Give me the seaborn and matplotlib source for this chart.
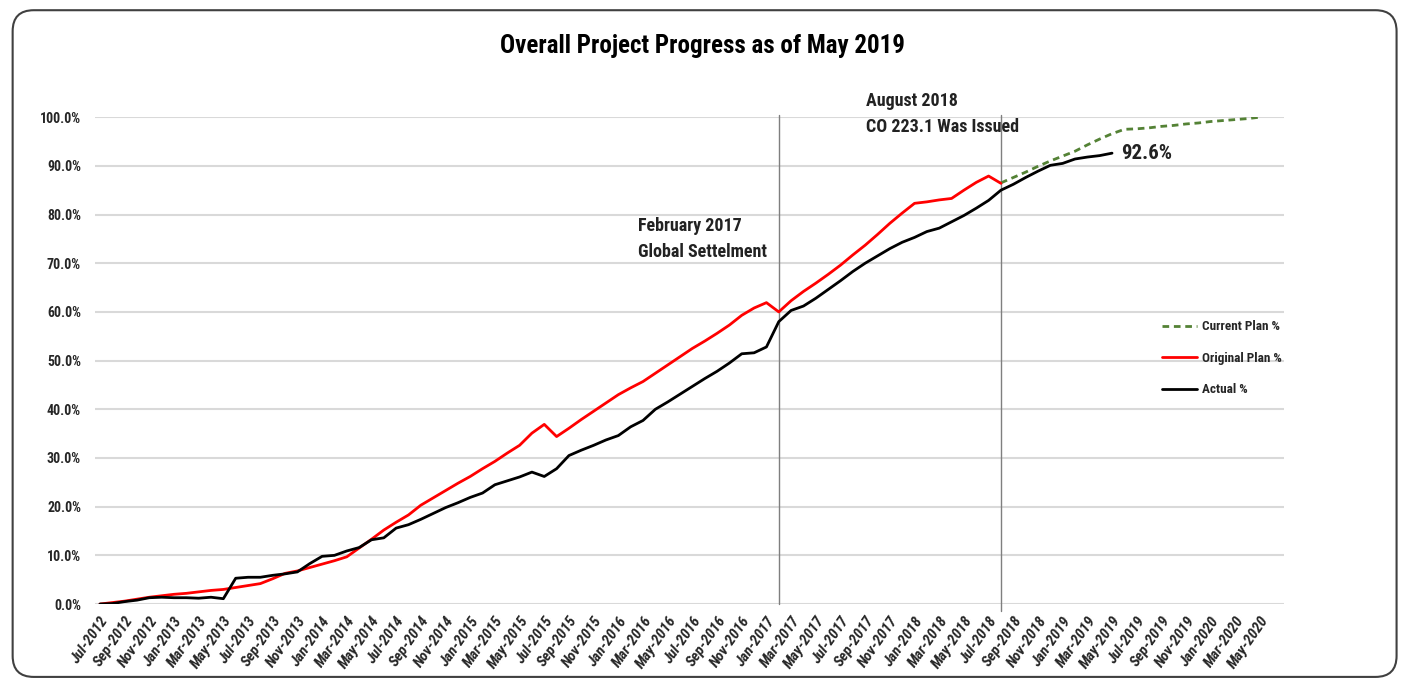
import numpy as np
import pandas as pd
import matplotlib
matplotlib.use("Agg")
import matplotlib.pyplot as plt
from matplotlib import font_manager
from matplotlib.patches import FancyBboxPatch
from matplotlib.ticker import PercentFormatter
import seaborn as sns

# months from Jul-2012 (index 0) to May-2020 (index 94)
months = pd.date_range("2012-07-01", "2020-05-01", freq="MS")
tick_labels = list(pd.date_range("2012-07-01", "2020-05-01", freq="2MS").strftime("%b-%Y"))

# Actual %, Jul-2012 .. May-2019
actual = [0.0, 0.1, 0.5, 0.8, 1.3, 1.4, 1.3, 1.3, 1.2, 1.4,
          1.1, 5.3, 5.5, 5.5, 5.9, 6.2, 6.6, 8.3, 9.8, 10.0,
          10.9, 11.6, 13.2, 13.6, 15.6, 16.3, 17.4, 18.6, 19.8, 20.8,
          21.9, 22.8, 24.5, 25.3, 26.1, 27.1, 26.2, 27.8, 30.5, 31.6,
          32.6, 33.7, 34.6, 36.4, 37.7, 40.0, 41.5, 43.1, 44.7, 46.3,
          47.8, 49.5, 51.4, 51.6, 52.8, 58.0, 60.3, 61.2, 62.8, 64.6,
          66.4, 68.3, 70.0, 71.5, 73.0, 74.3, 75.3, 76.5, 77.2, 78.5,
          79.8, 81.3, 82.9, 85.0, 86.2, 87.6, 88.9, 90.1, 90.5, 91.4,
          91.8, 92.1, 92.6]

# Original Plan %, Jul-2012 .. Aug-2018
original = [0.0, 0.3, 0.6, 1.0, 1.4, 1.7, 2.0, 2.2, 2.5, 2.8,
            3.0, 3.4, 3.8, 4.2, 5.2, 6.3, 6.8, 7.5, 8.2, 8.9,
            9.7, 11.5, 13.3, 15.2, 16.8, 18.3, 20.3, 21.8, 23.3, 24.8,
            26.2, 27.8, 29.3, 31.0, 32.6, 35.1, 36.9, 34.4, 36.1, 37.9,
            39.6, 41.3, 43.0, 44.4, 45.7, 47.4, 49.1, 50.8, 52.5, 54.0,
            55.6, 57.3, 59.3, 60.8, 61.9, 60.0, 62.3, 64.2, 65.9, 67.7,
            69.6, 71.7, 73.7, 75.9, 78.2, 80.3, 82.3, 82.6, 83.0, 83.3,
            85.0, 86.6, 87.9, 86.4]

# Current Plan %, Aug-2018 .. May-2020
current = [86.5, 87.6, 88.7, 89.9, 91.0, 92.0, 93.0, 94.3, 95.5, 96.6,
           97.5, 97.6, 97.8, 98.1, 98.3, 98.6, 98.8, 99.1, 99.3, 99.5,
           99.7, 100.0]

x_all = np.arange(len(months))
x_act = x_all[:len(actual)]
x_org = x_all[:len(original)]
x_cur = x_all[len(original) - 1:len(original) - 1 + len(current)]

sns.set_style("white")

# pick a narrow font close to Calibri if one is there
installed = {f.name for f in font_manager.fontManager.ttflist}
fam = "Lato"
for cand in ["Liberation Sans Narrow", "Roboto Condensed", "Open Sans Condensed", "Lato"]:
    if cand in installed:
        fam = cand
        break
plt.rcParams["font.family"] = [fam, "DejaVu Sans"]

fig = plt.figure(figsize=(14.05, 6.81), dpi=100)
ax = fig.add_axes([0.0676, 0.113, 0.846, 0.715])

sns.lineplot(x=x_cur, y=current, color="#548235", lw=2.0, ls=(0, (2.4, 1.7)),
             label="Current Plan %", ax=ax)
sns.lineplot(x=x_org, y=original, color="#ff0000", lw=2.0, label="Original Plan %", ax=ax)
sns.lineplot(x=x_act, y=actual, color="black", lw=2.0, label="Actual %", ax=ax)

ax.axvline(55, ymin=0, ymax=1.005, color="#7f7f7f", lw=1, zorder=1, clip_on=False)
ax.axvline(73, ymin=-0.015, ymax=1.005, color="#7f7f7f", lw=1, zorder=1, clip_on=False)

ax.set_xlim(-0.4, 95.9)
ax.set_ylim(0, 100)
ax.set_yticks(np.arange(0, 101, 10))
ax.yaxis.set_major_formatter(PercentFormatter(decimals=1))
ax.yaxis.grid(True, color="#d9d9d9", lw=1.5)
ax.set_axisbelow(True)
for s in ax.spines.values():
    s.set_visible(False)

ax.set_xticks(x_all[::2])
ax.set_xticklabels(tick_labels, rotation=55, ha="right", rotation_mode="anchor",
                   fontsize=11, fontweight="bold", style="italic")
ax.tick_params(axis="x", length=0, pad=7)
ax.tick_params(axis="y", length=0, pad=10, labelsize=10)
for t in ax.get_yticklabels():
    t.set_fontweight("bold")
ax.set_xlabel("")
ax.set_ylabel("")

ax.text(43.6, 75.0, "February 2017\nGlobal Settelment", fontsize=13, fontweight="bold",
        color="#222222", linespacing=1.6, va="center")
ax.text(62.1, 100.6, "August 2018\nCO 223.1 Was Issued", fontsize=13, fontweight="bold",
        color="#222222", linespacing=1.6, va="center")
ax.text(82.7, 92.6, "92.6%", fontsize=15, fontweight="bold", color="#222222", va="center")

fig.text(0.5, 0.932, "Overall Project Progress as of May 2019", ha="center", va="center",
         fontsize=18, fontweight="bold", color="black")

ax.legend(loc="center left", bbox_to_anchor=(0.888, 0.505), frameon=False,
          prop={"size": 9.5, "weight": "bold"}, handlelength=2.6, labelspacing=1.4,
          handletextpad=0.4)

frame = FancyBboxPatch((0.009, 0.006), 0.985, 0.979, boxstyle="round,pad=0,rounding_size=0.015",
                       transform=fig.transFigure, fill=False, edgecolor="#404040", lw=1.5,
                       mutation_aspect=2.06)
fig.patches.append(frame)

fig.savefig("out.png", dpi=100)
